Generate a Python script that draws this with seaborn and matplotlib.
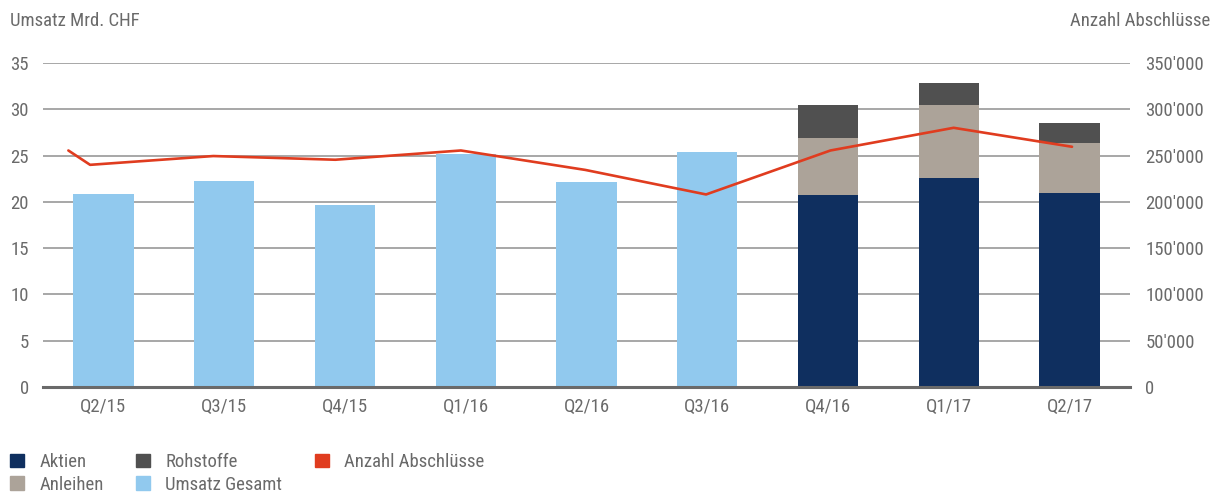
import matplotlib.pyplot as plt
import matplotlib.ticker as mticker
from matplotlib.patches import Patch
import pandas as pd
import seaborn as sns

quarters = ["Q2/15", "Q3/15", "Q4/15", "Q1/16", "Q2/16", "Q3/16", "Q4/16", "Q1/17", "Q2/17"]
umsatz_gesamt = [20.85, 22.25, 19.7, 25.2, 22.15, 25.4, None, None, None]
aktien = [None, None, None, None, None, None, 20.75, 22.6, 20.95]
anleihen = [None, None, None, None, None, None, 6.15, 7.85, 5.4]
rohstoffe = [None, None, None, None, None, None, 3.55, 2.4, 2.15]

# line positions (in quarter units) and values
line_x = [-0.29, -0.11, 0.91, 1.92, 2.96, 3.99, 4.99, 6.02, 7.04, 8.02]
abschluesse = [255500, 240000, 249500, 245500, 255500, 234500, 208000, 255500, 280000, 259500]

c_aktien = "#0f2f5f"
c_anleihen = "#aca399"
c_rohstoffe = "#505050"
c_umsatz = "#91c9ee"
c_line = "#e03c1f"
c_text = "#6a6a6a"

df = pd.DataFrame({"Quartal": quarters, "Umsatz": umsatz_gesamt, "Aktien": aktien,
                   "Anleihen": anleihen, "Rohstoffe": rohstoffe})
df["cum2"] = df["Aktien"] + df["Anleihen"]
df["cum3"] = df["cum2"] + df["Rohstoffe"]

sns.set_style("white")
plt.rcParams["font.family"] = ["Roboto Condensed", "Liberation Sans Narrow", "Roboto", "DejaVu Sans"]
fs = 13.5

fig = plt.figure(figsize=(12.15, 4.95), dpi=100)
ax = fig.add_axes([43 / 1215, 1 - 387 / 495, (1130 - 43) / 1215, (387 - 63) / 495])

for col, color in [("Umsatz", c_umsatz), ("cum3", c_rohstoffe), ("cum2", c_anleihen), ("Aktien", c_aktien)]:
    sns.barplot(data=df, x="Quartal", y=col, order=quarters, color=color, width=0.5,
                saturation=1, linewidth=0, ax=ax, zorder=3)

ax.set_xlim(-0.5, 8.5)
ax.set_ylim(0, 35)
ax.set_yticks(range(0, 36, 5))
ax.grid(axis="y", color="#8f8f8f", lw=1.1, zorder=0)
ax.set_axisbelow(True)
ax.set_xlabel("")
ax.set_ylabel("")
for s in ["top", "right", "left"]:
    ax.spines[s].set_visible(False)
ax.spines["bottom"].set_color("#6a6a6a")
ax.spines["bottom"].set_linewidth(2.2)
ax.spines["bottom"].set_zorder(5)
ax.set_xticks(range(len(quarters)))
ax.set_xticklabels(quarters)
ax.set_xticks([i - 0.5 for i in range(len(quarters) + 1)], minor=True)
ax.tick_params(axis="x", which="major", length=0, pad=8, labelsize=fs, labelcolor=c_text)
ax.tick_params(axis="x", which="minor", length=6, width=1, color="#6a6a6a", direction="out")
ax.tick_params(axis="y", length=0, pad=10, labelsize=fs, labelcolor=c_text)

ax2 = ax.twinx()
sns.lineplot(x=line_x, y=abschluesse, color=c_line, lw=1.9, ax=ax2, zorder=6)
ax2.set_ylim(0, 350000)
ax2.set_yticks(range(0, 350001, 50000))
ax2.yaxis.set_major_formatter(mticker.FuncFormatter(lambda v, p: f"{int(v):,}".replace(",", "'")))
ax2.tick_params(axis="y", length=0, pad=11, labelsize=fs, labelcolor=c_text)
for s in ax2.spines.values():
    s.set_visible(False)
ax2.set_xlim(-0.5, 8.5)

fig.text(10 / 1215, 1 - 21 / 495, "Umsatz Mrd. CHF", ha="left", va="center", fontsize=fs, color=c_text)
fig.text(1210 / 1215, 1 - 21 / 495, "Anzahl Abschlüsse", ha="right", va="center", fontsize=fs, color=c_text)

handles = [Patch(color=c_aktien), Patch(color=c_anleihen), Patch(color=c_rohstoffe),
           Patch(color=c_umsatz), Patch(color=c_line)]
labels = ["Aktien", "Anleihen", "Rohstoffe", "Umsatz Gesamt", "Anzahl Abschlüsse"]
leg = fig.legend(handles, labels, ncol=3, loc="lower left", bbox_to_anchor=(-3 / 1215, -0.024),
                 frameon=False, fontsize=fs, handlelength=0.75, handleheight=0.75,
                 handletextpad=0.8, columnspacing=1.75, labelspacing=0.25, borderpad=0.2)
for t in leg.get_texts():
    t.set_color(c_text)

fig.savefig("out.png", dpi=100)
